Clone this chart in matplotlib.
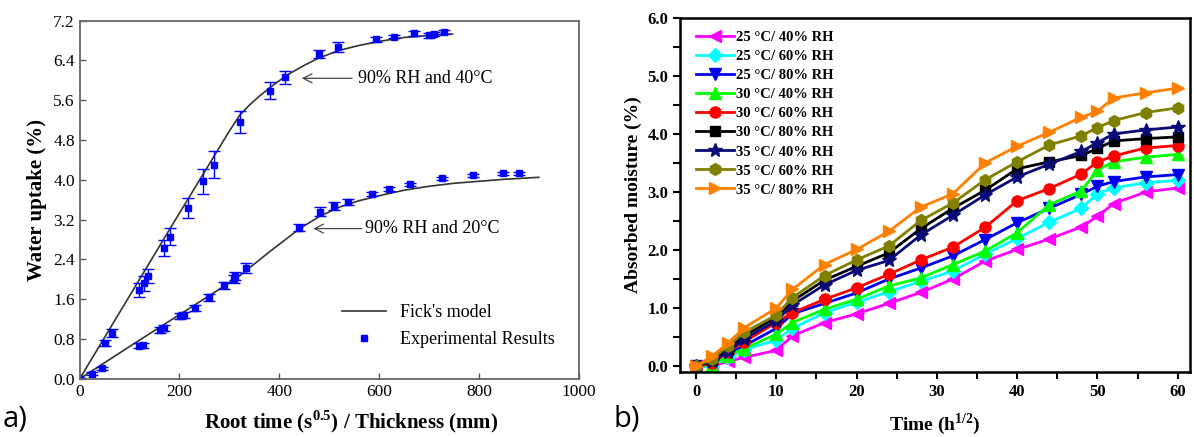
import numpy as np
import matplotlib
matplotlib.use("Agg")
import matplotlib.pyplot as plt

plt.rcParams["mathtext.fontset"] = "custom"
plt.rcParams["mathtext.rm"] = "Liberation Serif"
plt.rcParams["mathtext.bf"] = "Liberation Serif:bold"

# ---- panel a) data ----
x40 = [0, 50.8, 65.5, 118.6, 128.7, 137.9, 168.7, 181.8, 217, 246.5, 268.9, 321,
       380.6, 412, 480, 517, 593, 630, 670, 700, 710, 730]
y40 = [0, 0.72, 0.93, 1.78, 1.92, 2.07, 2.63, 2.86, 3.44, 3.97, 4.30, 5.16,
       5.79, 6.06, 6.53, 6.67, 6.82, 6.87, 6.94, 6.90, 6.93, 6.97]
e40 = [0.02, 0.06, 0.08, 0.14, 0.15, 0.14, 0.17, 0.18, 0.20, 0.25, 0.27, 0.22,
       0.17, 0.13, 0.08, 0.10, 0.05, 0.03, 0.05, 0.05, 0.04, 0.04]

x20 = [0, 25.4, 45.4, 118.8, 127, 162, 168.7, 202, 209, 232, 260, 290, 309, 311,
       334, 439, 482, 509, 537, 585, 620, 662, 726, 788, 848, 880]
y20 = [0, 0.10, 0.21, 0.67, 0.68, 0.99, 1.02, 1.26, 1.29, 1.43, 1.64, 1.88, 2.01, 2.06,
       2.22, 3.04, 3.36, 3.47, 3.56, 3.71, 3.82, 3.91, 4.03, 4.09, 4.13, 4.13]
e20 = [0.02, 0.03, 0.03, 0.05, 0.05, 0.06, 0.06, 0.06, 0.06, 0.06, 0.07, 0.07, 0.08, 0.08,
       0.10, 0.07, 0.09, 0.08, 0.06, 0.04, 0.04, 0.03, 0.03, 0.03, 0.03, 0.03]

fick40_x = [0, 60, 120, 180, 240, 300, 321, 340, 360, 390, 420, 450, 480, 520, 560, 600, 650, 700, 747]
fick40_y = [0, 1.0, 2.0, 3.0, 3.99, 4.98, 5.30, 5.50, 5.68, 5.92, 6.13, 6.30, 6.45, 6.60, 6.70, 6.78, 6.86, 6.90, 6.93]

fick20_x = [0, 100, 200, 300, 324, 380, 441, 480, 520, 560, 600, 650, 700, 750, 800, 850, 920]
fick20_y = [0, 0.65, 1.29, 1.93, 2.10, 2.55, 3.02, 3.26, 3.45, 3.58, 3.68, 3.79, 3.87, 3.93, 3.97, 4.01, 4.05]

# ---- panel b) data ----
t = [0, 2, 4, 6, 10, 12, 16, 20, 24, 28, 32, 36, 40, 44, 48, 50, 52, 56, 60]
labels_b = ["25 °C/ 40% RH", "25 °C/ 60% RH", "25 °C/ 80% RH",
            "30 °C/ 40% RH", "30 °C/ 60% RH", "30 °C/ 80% RH",
            "35 °C/ 40% RH", "35 °C/ 60% RH", "35 °C/ 80% RH"]
m25_40 = [0, 0.0, 0.08, 0.15, 0.27, 0.52, 0.75, 0.90, 1.08, 1.27, 1.50, 1.81, 2.01, 2.19, 2.40, 2.58, 2.80, 3.00, 3.07]
m25_60 = [0, 0.0, 0.15, 0.28, 0.45, 0.65, 0.92, 1.10, 1.28, 1.46, 1.64, 1.93, 2.20, 2.48, 2.72, 2.97, 3.07, 3.16, 3.20]
m25_80 = [0, 0.03, 0.22, 0.35, 0.65, 0.90, 1.08, 1.26, 1.50, 1.69, 1.90, 2.18, 2.47, 2.72, 2.96, 3.10, 3.18, 3.26, 3.30]
m30_40 = [0, 0.02, 0.18, 0.30, 0.55, 0.75, 0.98, 1.15, 1.38, 1.52, 1.75, 1.98, 2.30, 2.78, 3.02, 3.38, 3.52, 3.60, 3.65]
m30_60 = [0, 0.05, 0.25, 0.42, 0.75, 0.92, 1.15, 1.35, 1.58, 1.83, 2.05, 2.39, 2.85, 3.06, 3.31, 3.52, 3.62, 3.76, 3.80]
m30_80 = [0, 0.10, 0.30, 0.52, 0.84, 1.12, 1.48, 1.72, 1.95, 2.37, 2.72, 3.03, 3.40, 3.52, 3.63, 3.75, 3.88, 3.92, 3.95]
m35_40 = [0, 0.08, 0.25, 0.47, 0.78, 1.05, 1.40, 1.65, 1.82, 2.26, 2.60, 2.95, 3.26, 3.48, 3.70, 3.85, 4.00, 4.07, 4.12]
m35_60 = [0, 0.12, 0.35, 0.58, 0.88, 1.18, 1.56, 1.83, 2.07, 2.51, 2.81, 3.21, 3.52, 3.81, 3.97, 4.11, 4.23, 4.37, 4.45]
m35_80 = [0, 0.17, 0.40, 0.66, 1.00, 1.32, 1.75, 2.01, 2.32, 2.74, 2.97, 3.50, 3.79, 4.03, 4.29, 4.39, 4.62, 4.71, 4.79]
series_b = [m25_40, m25_60, m25_80, m30_40, m30_60, m30_80, m35_40, m35_60, m35_80]
colors_b = ["#FF00FF", "#00FFFF", "#0000EE", "#00FF00", "#FF0000", "#000000", "#0A0A78", "#808000", "#FF8000"]
markers_b = ["<", "D", "v", "^", "o", "s", "*", "h", ">"]
msizes_b = [8, 7, 8, 8, 8, 7, 10, 8.5, 8]

fig = plt.figure(figsize=(11.94, 4.37), dpi=100)

# ---------------- a) ----------------
serif = "Liberation Serif"
ax = fig.add_axes([0.0667, 0.133, 0.418, 0.820])
ax.plot(fick40_x, fick40_y, color="#333333", lw=1.2, label="Fick's model")
ax.plot(fick20_x, fick20_y, color="#333333", lw=1.2)
ax.errorbar(x40, y40, yerr=e40, fmt="s", color="#0000FF", ms=4, capsize=4,
            elinewidth=1, capthick=1)
ax.errorbar(x20, y20, yerr=e20, fmt="s", color="#0000FF", ms=4, capsize=4,
            elinewidth=1, capthick=1)
ax.plot([], [], "s", color="#0000FF", ms=4, label="Experimental Results")
ax.set_xlim(0, 1000)
ax.set_ylim(0, 7.2)
ax.set_xticks(np.arange(0, 1001, 200))
ax.set_yticks(np.arange(0, 7.21, 0.8))
ax.set_yticklabels([f"{v:.1f}" for v in np.arange(0, 7.21, 0.8)])
ax.tick_params(direction="in", length=4, width=1, color="#555555", labelsize=12.5)
for lab in ax.get_xticklabels() + ax.get_yticklabels():
    lab.set_fontfamily(serif)
for s in ax.spines.values():
    s.set_color("#666666")
    s.set_linewidth(1.3)
ax.set_ylabel("Water uptake (%)", fontfamily=serif, fontweight="bold", fontsize=15)
ax.set_xlabel("Root time (s$^{\\mathbf{0.5}}$) / Thickness (mm)", fontfamily=serif,
              fontweight="bold", fontsize=15)
ax.xaxis.set_label_coords(0.545, -0.082)
ax.annotate("90% RH and 40°C", xy=(445, 6.04), xytext=(557, 6.04), va="center",
            fontfamily=serif, fontsize=13,
            arrowprops=dict(arrowstyle="->", color="#444444", lw=0.9, shrinkB=0, mutation_scale=16))
ax.annotate("90% RH and 20°C", xy=(468, 3.02), xytext=(571, 3.02), va="center",
            fontfamily=serif, fontsize=13,
            arrowprops=dict(arrowstyle="->", color="#444444", lw=0.9, shrinkA=0, shrinkB=0, mutation_scale=16))
ax.legend(loc="lower right", bbox_to_anchor=(0.985, 0.04), frameon=False,
          prop={"family": serif, "size": 13}, handlelength=2.4, labelspacing=0.55)

fig.text(0.002, 0.025, "a)", fontsize=21, fontfamily="Open Sans")

# ---------------- b) ----------------
bx = fig.add_axes([0.5695, 0.149, 0.427, 0.810])
for ys, lab, c, m, ms in zip(series_b, labels_b, colors_b, markers_b, msizes_b):
    bx.plot(t, ys, color=c, marker=m, ms=ms, lw=2, label=lab)
bx.set_xlim(-2, 61.5)
bx.set_ylim(-0.1, 6.0)
bx.set_xticks(np.arange(0, 61, 10))
bx.set_xticks(np.arange(5, 61, 10), minor=True)
bx.set_yticks(np.arange(0, 6.01, 1.0))
bx.set_yticks(np.arange(0.5, 6.0, 1.0), minor=True)
bx.set_yticklabels([f"{v:.1f}" for v in np.arange(0, 6.01, 1.0)])
bx.tick_params(which="both", direction="out", length=5, width=1.5, labelsize=12)
for lab in bx.get_xticklabels() + bx.get_yticklabels():
    lab.set_fontfamily(serif)
    lab.set_fontweight("bold")
for s in bx.spines.values():
    s.set_linewidth(1.8)
bx.set_ylabel("Absorbed moisture (%)", fontfamily=serif, fontweight="bold", fontsize=14)
bx.set_xlabel("Time (h$^{\\mathbf{1/2}}$)", fontfamily=serif, fontweight="bold", fontsize=14, labelpad=8)
bx.legend(loc="upper left", bbox_to_anchor=(0.005, 1.0), frameon=False,
          prop={"family": serif, "size": 10.5, "weight": "bold"},
          handlelength=2.6, labelspacing=0.4, handletextpad=0.2, borderaxespad=0.5)

fig.text(0.514, 0.025, "b)", fontsize=21, fontfamily="Open Sans")

fig.savefig("out.png", dpi=100)
